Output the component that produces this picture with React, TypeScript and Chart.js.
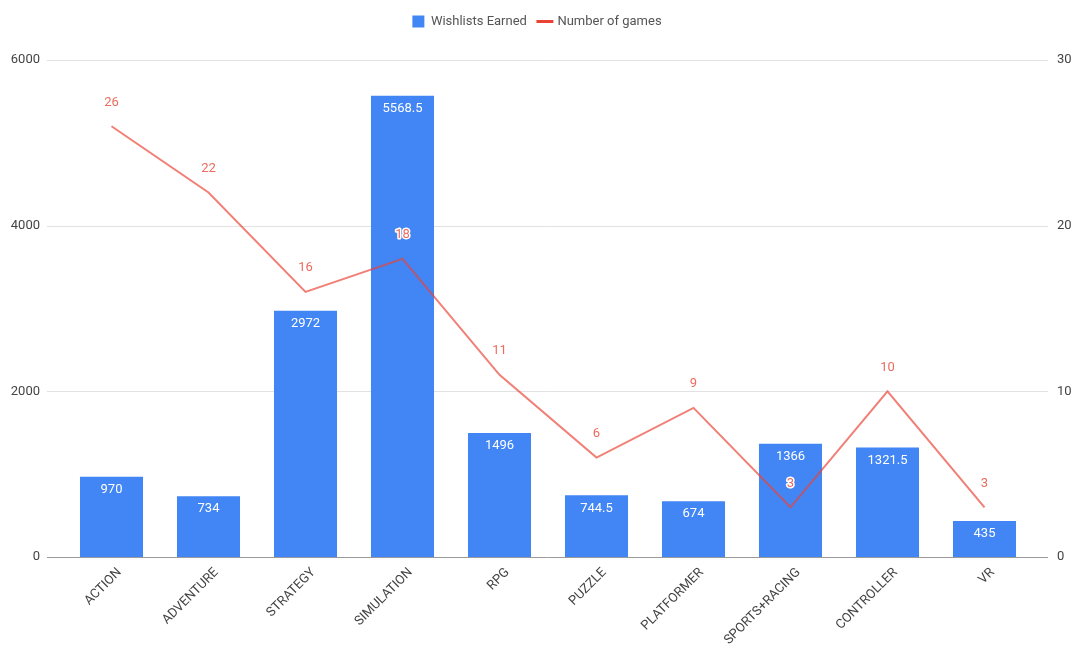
import React, { useEffect, useRef } from 'react';
import { Chart, registerables } from 'chart.js';

Chart.register(...registerables);

const categories = ['ACTION', 'ADVENTURE', 'STRATEGY', 'SIMULATION', 'RPG', 'PUZZLE', 'PLATFORMER', 'SPORTS+RACING', 'CONTROLLER', 'VR'];
const wishlists = [970, 734, 2972, 5568.5, 1496, 744.5, 674, 1366, 1321.5, 435];
const games = [26, 22, 16, 18, 11, 6, 9, 3, 10, 3];
const leftTickValues = [0, 2000, 4000, 6000];
const rightTickValues = [0, 10, 20, 30];

const BAR_COLOR = '#4285F4';
const LINE_COLOR = 'rgba(234, 67, 53, 0.68)';
const LEGEND_LINE = '#EA4335';
const LABEL_RED = '#EE6A5E';
const FONT = 'Roboto, "Liberation Sans", Arial, sans-serif';
const FS = 13;

const gridPlugin = {
  id: 'extGrid',
  beforeDatasetsDraw(chart: any) {
    const { ctx, chartArea } = chart;
    const y = chart.scales.yLeft;
    ctx.save();
    leftTickValues.forEach((v) => {
      const py = Math.round(y.getPixelForValue(v)) + 0.5;
      ctx.beginPath();
      ctx.strokeStyle = v === 0 ? '#9a9a9a' : '#e2e2e2';
      ctx.lineWidth = 1;
      ctx.moveTo(chartArea.left - 16, py);
      ctx.lineTo(chartArea.right + 15, py);
      ctx.stroke();
    });
    ctx.restore();
  },
};

const legendGap = {
  id: 'legendGap',
  beforeLayout(chart: any) {
    const lg = chart.legend;
    if (lg && !lg._gapPatched) {
      const orig = lg.fit.bind(lg);
      lg.fit = function () {
        orig();
        this.height += 22;
      };
      lg._gapPatched = true;
    }
  },
};

const labelsPlugin = {
  id: 'valueLabels',
  afterDatasetsDraw(chart: any) {
    const ctx = chart.ctx;
    ctx.save();
    ctx.font = `${FS}px ${FONT}`;
    ctx.textAlign = 'center';
    ctx.textBaseline = 'middle';
    const barMeta = chart.getDatasetMeta(0);
    barMeta.data.forEach((el: any, i: number) => {
      ctx.fillStyle = '#ffffff';
      ctx.fillText(String(wishlists[i]), el.x, el.y + 13);
    });
    const lineMeta = chart.getDatasetMeta(1);
    lineMeta.data.forEach((el: any, i: number) => {
      const t = String(games[i]);
      ctx.lineWidth = 3;
      ctx.lineJoin = 'round';
      ctx.strokeStyle = '#ffffff';
      ctx.strokeText(t, el.x, el.y - 24);
      ctx.fillStyle = LABEL_RED;
      ctx.fillText(t, el.x, el.y - 24);
    });
    ctx.restore();
  },
};

export default function App() {
  const ref = useRef<HTMLCanvasElement | null>(null);

  useEffect(() => {
    if (!ref.current) return;
    Chart.defaults.font.family = FONT;
    const chart = new Chart(ref.current, {
      type: 'bar',
      data: {
        labels: categories,
        datasets: [
          {
            type: 'bar',
            label: 'Wishlists Earned',
            data: wishlists,
            backgroundColor: BAR_COLOR,
            yAxisID: 'yLeft',
            barPercentage: 0.65,
            categoryPercentage: 1,
            order: 1,
            pointStyle: 'rect',
          } as any,
          {
            type: 'line',
            label: 'Number of games',
            data: games,
            borderColor: LINE_COLOR,
            backgroundColor: LINE_COLOR,
            borderWidth: 2,
            pointRadius: 0,
            pointHoverRadius: 0,
            tension: 0,
            yAxisID: 'yRight',
            order: 0,
            pointStyle: 'line',
          } as any,
        ],
      },
      options: {
        responsive: false,
        animation: false,
        layout: { padding: { top: 3, left: 0, right: 0, bottom: 0 } },
        plugins: {
          tooltip: { enabled: false },
          legend: {
            display: true,
            position: 'top',
            labels: {
              usePointStyle: true,
              boxWidth: 12,
              boxHeight: 12,
              padding: 12,
              color: '#555555',
              font: { size: FS, family: FONT },
              sort: (a: any, b: any) => a.datasetIndex - b.datasetIndex,
              generateLabels: (chart: any) => {
                const items = (Chart.defaults.plugins.legend.labels as any).generateLabels(chart);
                items.forEach((it: any) => {
                  if (it.datasetIndex === 1) {
                    it.strokeStyle = LEGEND_LINE;
                    it.fillStyle = LEGEND_LINE;
                    it.lineWidth = 3;
                  } else {
                    it.fillStyle = BAR_COLOR;
                    it.strokeStyle = BAR_COLOR;
                    it.lineWidth = 0;
                  }
                });
                return items;
              },
            },
          },
        },
        scales: {
          x: {
            offset: true,
            grid: { display: false, drawTicks: false },
            border: { display: false },
            ticks: {
              maxRotation: 45,
              minRotation: 45,
              autoSkip: false,
              color: '#444444',
              font: { size: FS },
              padding: 8,
              labelOffset: 8,
            },
            afterFit: (s: any) => {
              s.height = 88;
            },
          },
          yLeft: {
            type: 'linear',
            position: 'left',
            min: 0,
            max: 6000,
            grid: { display: false, drawTicks: false },
            border: { display: false },
            ticks: {
              stepSize: 2000,
              color: '#444444',
              font: { size: FS },
              padding: 23,
              callback: (v: any) => String(v),
            },
            afterBuildTicks: (s: any) => {
              s.ticks = leftTickValues.map((v) => ({ value: v }));
            },
            afterFit: (s: any) => {
              s.width = 63;
            },
          },
          yRight: {
            type: 'linear',
            position: 'right',
            min: 0,
            max: 30,
            grid: { display: false, drawTicks: false },
            border: { display: false },
            ticks: {
              stepSize: 10,
              color: '#444444',
              font: { size: FS },
              padding: 24,
              callback: (v: any) => String(v),
            },
            afterBuildTicks: (s: any) => {
              s.ticks = rightTickValues.map((v) => ({ value: v }));
            },
            afterFit: (s: any) => {
              s.width = 41;
            },
          },
        },
      } as any,
      plugins: [gridPlugin, legendGap, labelsPlugin],
    });
    return () => chart.destroy();
  }, []);

  return (
    <div style={{ position: 'absolute', left: 0, top: 0, width: 1074, height: 645, background: '#ffffff' }}>
      <canvas ref={ref} width={1074} height={645} style={{ display: 'block' }} />
    </div>
  );
}
